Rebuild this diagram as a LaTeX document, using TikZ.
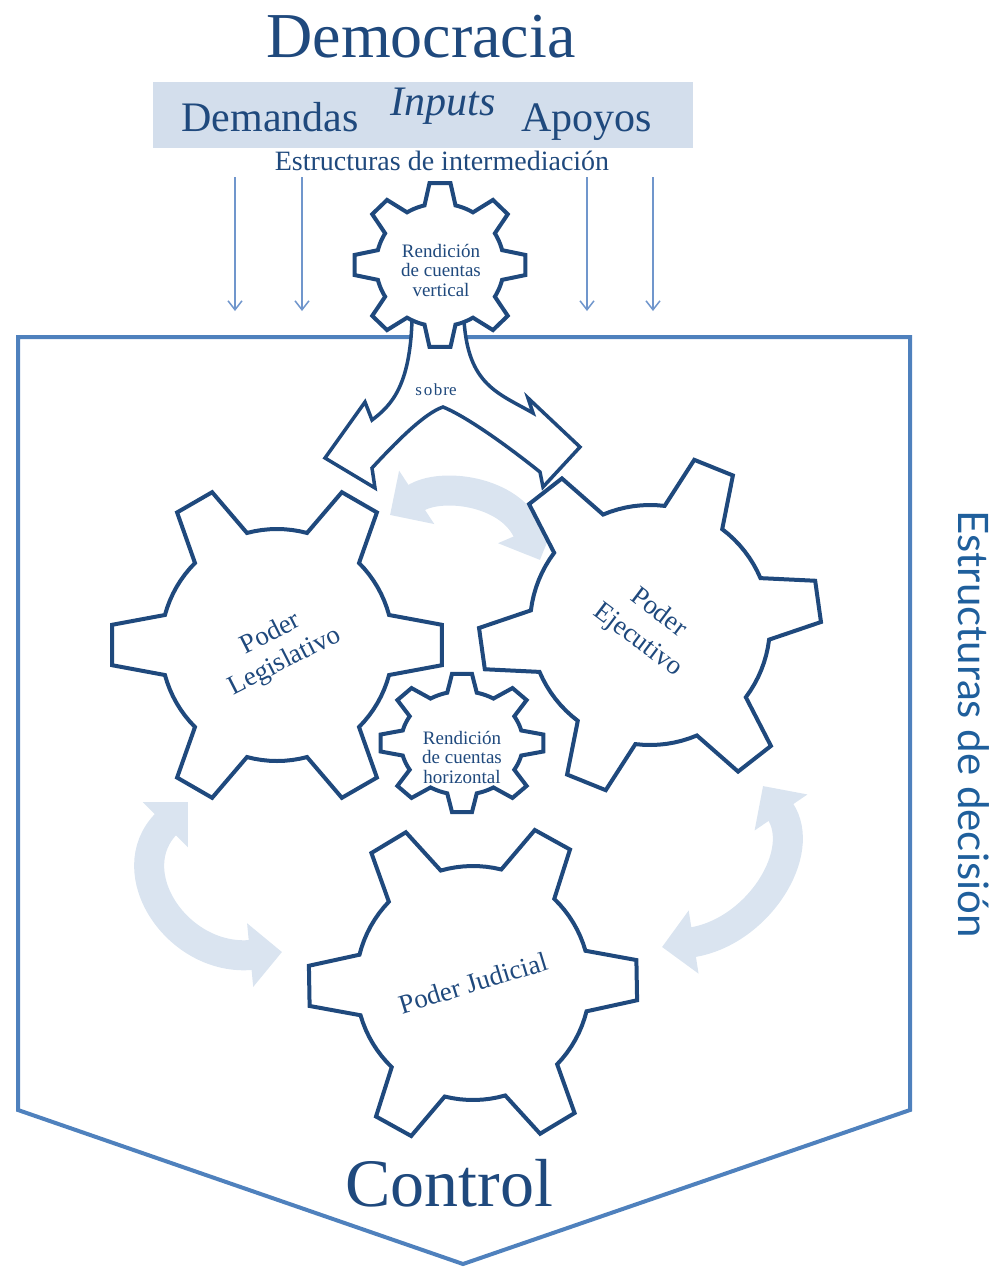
\documentclass[tikz,border=0pt]{standalone}
\usepackage{fontspec}
\setmainfont{Liberation Serif}
\newfontfamily\latofont{Lato}
\usetikzlibrary{arrows.meta}
\definecolor{dk}{HTML}{1F497D}
\definecolor{frm}{HTML}{4F81BD}
\definecolor{lbox}{HTML}{D3DEEC}
\definecolor{lar}{HTML}{DAE4F0}
\definecolor{dar}{HTML}{7096CC}
\definecolor{sdc}{HTML}{1F5F9C}
\newcommand{\gearshape}[9]{%
\begin{scope}[shift={(#1,#2)}, yscale=#9]
\pgfmathsetmacro{\gst}{360/#3}
\pgfmathtruncatemacro{\gnn}{#3-1}
\filldraw[gear] ({#8-#7}:#5)
 \foreach \k in {0,...,\gnn}{
   -- ({#8+\k*\gst-#6}:#4) -- ({#8+\k*\gst+#6}:#4) -- ({#8+\k*\gst+#7}:#5)
   \foreach \j in {1,...,8}{ -- ({#8+\k*\gst+#7+\j*(\gst-2*#7)/8}:#5) }
 } -- cycle;
\end{scope}}
\begin{document}
\begin{tikzpicture}[x=1pt,y=-1pt,
  gear/.style={draw=dk, fill=white, line width=4pt, line join=miter},
  frame/.style={draw=frm, line width=4pt, line join=miter},
  inarrow/.style={draw=dar, line width=1.5pt, -{Straight Barb[length=9pt,width=14pt]}},
  lightarrow/.style={draw=lar, line width=30pt, {Triangle[length=32pt,width=62pt]}-{Triangle[length=32pt,width=62pt]}},
  txt/.style={text=dk, inner sep=0pt},
  geartxt/.style={text=dk, inner sep=0pt, align=center},
  smalltxt/.style={text=dk, inner sep=0pt, align=center, font=\fontsize{19}{19.5}\selectfont}
]
\useasboundingbox (0,0) rectangle (997,1270);

% top band
\fill[lbox] (153,82) rectangle (693,148);
\node[txt, anchor=base, font=\fontsize{64}{70}\selectfont] (demo) at (421,57) {Democracia};
\node[txt, anchor=base, font=\fontsize{42}{46}\selectfont] (dem) at (270,131) {Demandas};
\node[txt, anchor=base, font=\fontsize{42}{46}\selectfont\itshape] (inp) at (443,115) {Inputs};
\node[txt, anchor=base, font=\fontsize{42}{46}\selectfont] (apo) at (587,131) {Apoyos};
\node[txt, anchor=base, font=\fontsize{28}{30}\selectfont] (interm) at (442,170) {Estructuras de intermediación};

% input arrows
\coordinate (a1s) at (235,177); \coordinate (a1e) at (235,311);
\coordinate (a2s) at (302,177); \coordinate (a2e) at (302,311);
\coordinate (a3s) at (587,177); \coordinate (a3e) at (587,311);
\coordinate (a4s) at (653,177); \coordinate (a4e) at (653,311);
\draw[inarrow] (a1s) -- (a1e);
\draw[inarrow] (a2s) -- (a2e);
\draw[inarrow] (a3s) -- (a3e);
\draw[inarrow] (a4s) -- (a4e);

% frame
\draw[frame] (18,337) -- (18,1110) -- (463,1264) -- (910,1110) -- (910,337) -- cycle;

% light double arrows
\coordinate (t1) at (390,515); \coordinate (t2) at (540,560);
\draw[lightarrow] (t1) .. controls (440,482) and (510,490) .. (t2);
\coordinate (l1) at (188,802); \coordinate (l2) at (282,952);
\draw[lightarrow] (l2) .. controls (178,962) and (118,872) .. (l1);
\coordinate (r1) at (763,786); \coordinate (r2) at (662,947);
\draw[lightarrow] (r2) .. controls (758,932) and (808,852) .. (r1);

% sobre split arrow
\filldraw[gear, line width=3.5pt]
  (412,320) .. controls (410,385) and (392,405) .. (372,420)
  -- (365,402) -- (325,458) -- (375,488) -- (372,468)
  .. controls (398,440) and (425,413) .. (443,407)
  .. controls (463,415) and (500,440) .. (540,472)
  -- (543,487) -- (580,447) -- (528,398) -- (533,413)
  .. controls (498,393) and (468,385) .. (464,320) -- cycle;
\node[txt, font=\fontsize{17}{18}\selectfont] (sobre) at (436,390) {s{\kern2pt}o{\kern1.5pt}b{\kern1pt}re};

% gears
\gearshape{440}{265}{8}{86}{64}{7}{14}{90}{0.96}
\node[smalltxt] (rcv) at (441,270) {Rendición\\de cuentas\\vertical};

\gearshape{277}{645}{6}{166}{116}{7}{15}{0}{1}
\node[geartxt, rotate=27, font=\fontsize{27}{31}\selectfont] (leg) at (278,648) {Poder\\Legislativo};

\gearshape{650}{625}{6}{171}{120}{7}{15}{-8}{1}
\node[geartxt, rotate=-37, font=\fontsize{27}{34}\selectfont] (eje) at (648,627) {Poder\\Ejecutivo};

\gearshape{473}{983}{6}{165}{117}{7}{15}{-1}{1}
\node[geartxt, rotate=17, font=\fontsize{27}{31}\selectfont] (jud) at (473,983) {Poder Judicial};

\gearshape{462}{743}{8}{82}{61}{7}{14}{90}{0.85}
\node[smalltxt] (rch) at (462,757) {Rendición\\de cuentas\\horizontal};

% bottom and side labels
\node[txt, anchor=base, font=\fontsize{68}{72}\selectfont] (ctrl) at (449,1206) {Control};
\node[inner sep=0pt, anchor=base, rotate=-90, text=sdc, font=\latofont\fontsize{42}{48}\selectfont] (dec) at (958,724) {Estructuras de decisión};
\end{tikzpicture}
\end{document}
